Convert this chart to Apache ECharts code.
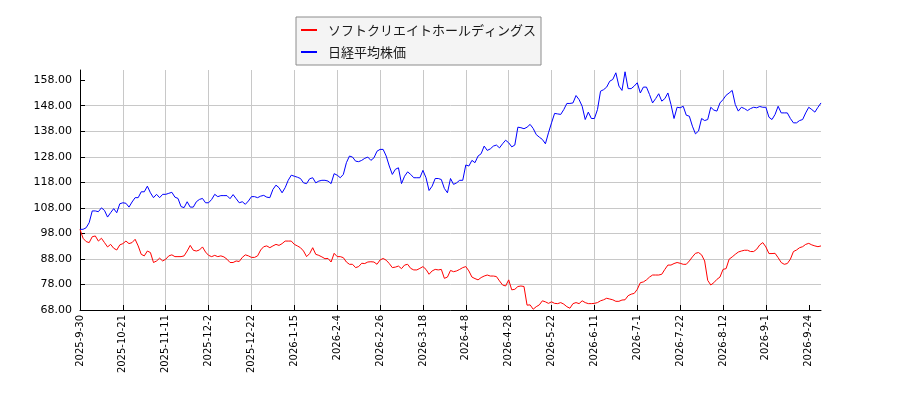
<!DOCTYPE html>
<html lang="ja">
<head>
  <meta charset="UTF-8">
  <title>chart</title>
  <style>
    body { margin: 0; background: #fff; }
  </style>
</head>
<body>
<div id="main" style="width: 900px;height:400px;"></div>
<script src="https://cdn.jsdelivr.net/npm/echarts@6.0.0/dist/echarts.min.js"></script>
<script>
// x 軸の目盛り（取引日インデックスと表示ラベル）
var tickIndex = [0, 14, 28, 42, 56, 70, 84, 98, 112, 126, 140, 154, 168, 182, 196, 210, 224, 238];
var tickLabels = ['2025-9-30', '2025-10-21', '2025-11-11', '2025-12-2', '2025-12-22', '2026-1-15',
  '2026-2-4', '2026-2-26', '2026-3-18', '2026-4-8', '2026-4-28', '2026-5-22', '2026-6-11',
  '2026-7-1', '2026-7-22', '2026-8-12', '2026-9-1', '2026-9-24'];
var yTicks = [68, 78, 88, 98, 108, 118, 128, 138, 148, 158];

// ソフトクリエイトホールディングス（指数化）
var softcreate = [
  99.6, 96.1, 94.8, 94.4, 96.7, 97, 95, 96.1, 94.4, 92.7,
  93.7, 92.2, 91.5, 93.5, 94, 95, 94, 94.4, 95.7, 93.1,
  89.8, 89.2, 91.1, 90.5, 86.6, 87.2, 88.3, 87.2, 87.9, 89.2,
  89.6, 88.9, 88.9, 88.9, 89.2, 91.1, 93.3, 91.4, 91.1, 91.5,
  92.7, 90.7, 89.4, 88.9, 89.4, 88.9, 89.2, 88.8, 87.9, 86.6,
  86.6, 87.2, 87, 88.6, 89.6, 89.2, 88.6, 88.6, 89.2, 91.5,
  92.8, 93.1, 92.4, 93.1, 93.7, 93.3, 94, 95, 95, 95,
  93.7, 93.1, 92.4, 91.1, 88.9, 90.1, 92.4, 89.8, 89.4, 88.8,
  88.1, 88.2, 86.8, 90.2, 88.9, 88.9, 88.5, 86.8, 85.9, 85.9,
  84.6, 85, 86.3, 86.2, 86.8, 86.9, 86.8, 85.9, 87.6, 88.2,
  87.5, 86.2, 84.6, 84.8, 85.2, 84.2, 85.6, 85.9, 84.3, 83.7,
  83.7, 84.3, 85, 83.9, 82, 83.3, 83.9, 83.7, 83.9, 80.4,
  80.9, 83.5, 83, 83.3, 83.9, 84.6, 85, 83.3, 80.9, 80.3,
  79.8, 80.7, 81.3, 81.7, 81.3, 81.3, 81.1, 79.4, 77.8, 77.4,
  79.8, 75.9, 76.1, 77.2, 77.4, 77.2, 69.9, 70, 68.3, 69.3,
  70, 71.6, 71.2, 70.6, 71.2, 70.6, 70.5, 70.9, 70.3, 69.3,
  68.7, 70.5, 70.9, 70.5, 71.6, 70.9, 70.5, 70.5, 70.6, 70.9,
  71.6, 72, 72.6, 72.3, 72, 71.4, 71.4, 71.9, 72, 73.6,
  74.2, 74.5, 76.1, 78.7, 79, 79.8, 80.9, 81.7, 81.7, 81.7,
  82, 83.9, 85.6, 85.6, 86.2, 86.6, 86.3, 85.9, 85.9, 87.2,
  88.8, 90.2, 90.5, 89.6, 87.2, 79.6, 77.8, 78.7, 80, 80.9,
  83.9, 84.2, 87.9, 88.8, 89.8, 90.7, 91.1, 91.4, 91.4, 90.9,
  90.9, 91.8, 93.5, 94.4, 92.7, 90.1, 90.1, 90.2, 88.5, 86.6,
  85.9, 86.2, 87.9, 90.9, 91.5, 92.4, 92.8, 93.7, 94.1, 93.5,
  93.1, 92.8, 93.1
];

// 日経平均株価（指数化）
var nikkei = [
  99.6, 99.6, 100.2, 102.2, 106.8, 106.8, 106.5, 108, 107, 104.4,
  106.1, 107.7, 106.1, 109.6, 110, 109.8, 108.3, 110.3, 112, 112,
  114.3, 114.3, 116.5, 113.9, 112, 113.3, 112, 113.3, 113.3, 113.7,
  114.1, 112.2, 111.7, 108.5, 108.1, 110.4, 108.3, 108.3, 110.4, 111.3,
  111.7, 110, 110, 111.3, 113.3, 112.4, 112.8, 112.8, 112.8, 111.6,
  113.2, 111.6, 110, 110.4, 109.4, 110.7, 112.4, 112.4, 112, 112.6,
  112.9, 112.2, 112, 115.2, 116.9, 115.9, 113.9, 115.9, 118.8, 120.8,
  120.4, 120, 119.5, 117.8, 117.5, 119.4, 119.8, 117.8, 118.5, 118.8,
  118.8, 118.5, 117.5, 121.4, 120.8, 119.8, 121.1, 125.7, 128.3, 127.9,
  126.3, 126.1, 126.6, 127.4, 127.9, 126.6, 127.6, 130.2, 130.9, 130.9,
  128.3, 124.4, 121.1, 123.1, 123.7, 117.5, 120.4, 122.1, 121.1, 119.8,
  119.8, 119.8, 122.7, 119.8, 114.8, 116.5, 119.5, 119.5, 119.1, 115.6,
  113.9, 119.5, 117.2, 117.8, 118.8, 118.8, 124.8, 124.4, 126.6, 125.7,
  128.3, 129.2, 132.2, 130.5, 131.1, 132.2, 132.6, 131.5, 133.1, 134.5,
  133.5, 131.9, 132.6, 139.6, 139.4, 139, 139.6, 140.7, 139.1, 136.7,
  135.7, 134.8, 133.1, 137.4, 141.3, 145, 144.8, 144.6, 146.5, 148.9,
  148.9, 149.1, 152, 150.4, 147.8, 142.6, 145.5, 143, 143, 146.5,
  153.7, 154.3, 155.3, 157.6, 158.3, 160.9, 155.7, 154, 161.3, 154.7,
  154.7, 155.7, 157, 153, 155.3, 155.3, 152.4, 149.1, 150.8, 152.7,
  149.8, 150.8, 153, 148.5, 143, 147.4, 147.2, 147.8, 144.3, 143.9,
  140, 137, 138.1, 143, 142.2, 142.6, 147.4, 146.3, 145.9, 149.1,
  150.4, 152.1, 153, 154, 148.5, 145.9, 147.4, 146.9, 146.1, 146.9,
  147.4, 147.2, 147.7, 147.4, 147.4, 143.5, 142.6, 144.6, 147.8, 145.2,
  145.2, 145.2, 143, 141.3, 141.3, 142.2, 142.6, 145.2, 147.4, 146.5,
  145.5, 147.4, 149.1
];

function toPairs(arr) {
  return arr.map(function (v, i) { return [i, v]; });
}

var myChart = echarts.init(document.getElementById('main'));

myChart.setOption({
  animation: false,
  backgroundColor: '#fff',
  textStyle: { fontFamily: 'DejaVu Sans' },
  legend: {
    orient: 'vertical',
    left: 296,
    top: 17,
    padding: [5, 5, 5, 5],
    itemGap: 6,
    itemWidth: 16,
    itemHeight: 2,
    backgroundColor: '#f4f4f4',
    borderColor: '#8c8c8c',
    borderWidth: 1,
    borderRadius: 0,
    textStyle: {
      fontFamily: 'Noto Sans CJK JP',
      fontSize: 13,
      lineHeight: 16,
      color: '#1a1a1a',
      padding: [0, 0, 0, 6]
    },
    data: [
      { name: 'ソフトクリエイトホールディングス', icon: 'rect' },
      { name: '日経平均株価', icon: 'rect' }
    ]
  },
  grid: {
    left: 80,
    right: 79,
    top: 70,
    bottom: 90,
    outerBoundsMode: 'none'
  },
  xAxis: {
    type: 'value',
    min: 0,
    max: softcreate.length - 1,
    interval: 14,
    axisLine: { show: true, onZero: false, lineStyle: { color: '#000', width: 1 } },
    axisTick: { show: true, inside: true, length: 5, customValues: tickIndex, lineStyle: { color: '#000' } },
    axisLabel: {
      customValues: tickIndex,
      rotate: 90,
      margin: 5,
      fontSize: 10,
      color: '#000',
      formatter: function (v) {
        var k = tickIndex.indexOf(v);
        return k >= 0 ? tickLabels[k] : '';
      }
    },
    splitLine: { show: true, showMaxLine: false, lineStyle: { color: '#c8c8c8', width: 1 } }
  },
  yAxis: {
    type: 'value',
    min: 68,
    max: 162,
    interval: 10,
    axisLine: { show: true, onZero: false, lineStyle: { color: '#000', width: 1 } },
    axisTick: { show: true, inside: true, length: 5, customValues: yTicks, lineStyle: { color: '#000' } },
    axisLabel: {
      customValues: yTicks,
      margin: 8,
      fontSize: 11,
      color: '#000',
      formatter: function (v) { return v.toFixed(2); }
    },
    splitLine: { show: true, showMaxLine: false, lineStyle: { color: '#c8c8c8', width: 1 } }
  },
  series: [
    {
      name: 'ソフトクリエイトホールディングス',
      type: 'line',
      showSymbol: false,
      color: '#ff0000',
      lineStyle: { width: 1, color: '#ff0000' },
      data: toPairs(softcreate)
    },
    {
      name: '日経平均株価',
      type: 'line',
      showSymbol: false,
      color: '#0000ff',
      lineStyle: { width: 1, color: '#0000ff' },
      data: toPairs(nikkei)
    }
  ]
});
</script>
</body>
</html>
